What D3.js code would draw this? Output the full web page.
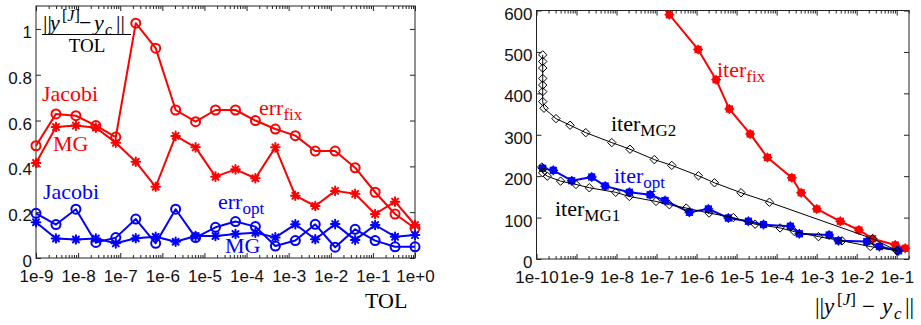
<!DOCTYPE html>
<html><head><meta charset="utf-8">
<script src="https://cdn.jsdelivr.net/npm/d3@7"></script>
<style>body{margin:0;background:#fff}svg{display:block}</style>
</head><body><svg id="c" width="921" height="325"></svg>
<script>
// ---------- Left panel data ----------
const tol = [1e-9, 2.98e-9, 8.86e-9, 2.64e-8, 7.85e-8, 2.34e-7, 6.95e-7, 2.07e-6, 6.16e-6, 1.83e-5,
             5.46e-5, 1.62e-4, 4.83e-4, 1.44e-3, 4.28e-3, 1.27e-2, 3.79e-2, 0.113, 0.336, 1.0];
const errFixJacobi = [0.49, 0.629, 0.621, 0.578, 0.528, 1.025, 0.916, 0.646, 0.595, 0.646,
                      0.646, 0.60, 0.563, 0.534, 0.467, 0.467, 0.394, 0.287, 0.192, 0.13];
const errFixMG = [0.415, 0.572, 0.578, 0.569, 0.503, 0.42, 0.311, 0.533, 0.483, 0.355,
                  0.387, 0.348, 0.483, 0.272, 0.227, 0.293, 0.28, 0.192, 0.246, 0.144];
const errOptJacobi = [0.195, 0.146, 0.213, 0.068, 0.089, 0.17, 0.064, 0.213, 0.089, 0.134,
                      0.159, 0.137, 0.052, 0.076, 0.147, 0.047, 0.125, 0.076, 0.049, 0.049];
const errOptMG = [0.156, 0.085, 0.081, 0.085, 0.064, 0.086, 0.093, 0.071, 0.096, 0.096,
                  0.105, 0.11, 0.09, 0.147, 0.082, 0.148, 0.079, 0.144, 0.093, 0.1];
const leftYTicks = [0, 0.2, 0.4, 0.6, 0.8, 1];
const leftXTicks = [1e-9, 1e-8, 1e-7, 1e-6, 1e-5, 1e-4, 1e-3, 1e-2, 1e-1, 1e0];

// ---------- Right panel data ----------
const fixRes  = [5.1e-8, 2.09e-7, 1.09e-6, 3.07e-6, 6.6e-6, 2.18e-5, 5.9e-5, 2.4e-4, 4.1e-4, 1.01e-3, 3.9e-3, 1.14e-2, 2.5e-2, 9.2e-2, 0.163];
const fixIter = [660, 590, 506, 433, 362, 302, 245, 196, 160, 121, 91, 70, 49, 34, 26];
const optRes  = [1.43e-10, 2.63e-10, 7.6e-10, 2.4e-9, 5.2e-9, 2.09e-8, 6.9e-8, 1.63e-7, 6.6e-7, 1.97e-6, 6.2e-6, 1.97e-5, 4.7e-5, 2.2e-4, 3.7e-4, 2.05e-3, 3.5e-3, 1.8e-2, 3.7e-2, 0.111];
const optIter = [219, 214, 189, 198, 176, 161, 155, 141, 113, 121, 99, 91, 83, 79, 61, 58, 44, 42, 30, 20];
const mg1Res  = [1.35e-10, 1.43e-10, 1.86e-10, 4.0e-10, 9.7e-10, 2.09e-9, 9.5e-9, 2.09e-8, 9.7e-8, 2.09e-7, 5.5e-7, 2.05e-6, 8.3e-6, 2.9e-5, 1.22e-4, 2.8e-4, 1.11e-3, 4.3e-3, 2.2e-2, 0.101];
const mg1Iter = [222, 208, 200, 188, 180, 172, 161, 151, 139, 131, 123, 111, 100, 84, 75, 66, 54, 44, 30, 20];
const mg2Res  = [1.43e-10, 1.43e-10, 1.43e-10, 1.43e-10, 1.43e-10, 1.43e-10, 1.43e-10, 1.54e-10, 3.07e-10, 6.9e-10, 1.7e-9, 7.6e-9, 2.17e-8, 8.8e-8, 2.4e-7, 1.11e-6, 2.8e-6, 1.29e-5, 6.6e-5, 2.5e-2, 0.101];
const mg2Iter = [493, 477, 461, 436, 420, 404, 380, 364, 339, 323, 305, 281, 265, 240, 226, 201, 184, 160, 137, 49, 20];
const rightYTicks = [0, 100, 200, 300, 400, 500, 600];
const rightXTicks = [1e-10, 1e-9, 1e-8, 1e-7, 1e-6, 1e-5, 1e-4, 1e-3, 1e-2, 1e-1];

// ---------- Setup ----------
const RED = '#ff0000', BLUE = '#0000ff';
const SANS = '"Liberation Sans", Arial, Helvetica, sans-serif';
const SERIF = '"Liberation Serif", "Times New Roman", serif';
const svg = d3.select('#c');

const xL = d3.scaleLog().domain([1e-9, 1]).range([36, 415]);
const yL = d3.scaleLinear().domain([0, 1.1]).range([258, 6]);
const xR = d3.scaleLog().domain([1e-10, 0.203]).range([536.5, 909]);
const yR = d3.scaleLinear().domain([0, 600]).range([259, 10.5]);

const fmtExp = d => { const e = Math.round(Math.log10(d)); return '1e' + (e >= 0 ? '+' + e : e); };

function minors(domain) {
  const out = [];
  const lo = Math.floor(Math.log10(domain[0]) + 1e-9), hi = Math.ceil(Math.log10(domain[1]) - 1e-9);
  for (let e = lo; e < hi; e++) for (let m = 2; m <= 9; m++) {
    const v = m * Math.pow(10, e);
    if (v >= domain[0] && v <= domain[1] * 1.0001) out.push(v);
  }
  return out;
}

function drawAxes(x, y, xt, yt, yfmt) {
  const [x0, x1] = x.range(), [y0, y1] = y.range();
  const g = svg.append('g');
  const style = sel => {
    sel.select('.domain').remove();
    sel.selectAll('line').attr('stroke', '#222').attr('stroke-width', 1);
    sel.selectAll('text').attr('font-family', SANS).attr('font-size', 17).attr('fill', '#111');
  };
  // bottom
  g.append('g').attr('transform', `translate(0,${y0})`)
    .call(d3.axisBottom(x).tickValues(xt).tickFormat(fmtExp).tickSize(-5).tickSizeOuter(0).tickPadding(12)).call(style);
  g.append('g').attr('transform', `translate(0,${y0})`)
    .call(d3.axisBottom(x).tickValues(minors(x.domain())).tickFormat('').tickSize(-3).tickSizeOuter(0)).call(style);
  // top
  g.append('g').attr('transform', `translate(0,${y1})`)
    .call(d3.axisTop(x).tickValues(xt).tickFormat('').tickSize(-5).tickSizeOuter(0)).call(style);
  g.append('g').attr('transform', `translate(0,${y1})`)
    .call(d3.axisTop(x).tickValues(minors(x.domain())).tickFormat('').tickSize(-3).tickSizeOuter(0)).call(style);
  // left
  g.append('g').attr('transform', `translate(${x0},0)`)
    .call(d3.axisLeft(y).tickValues(yt).tickFormat(yfmt).tickSize(-5).tickSizeOuter(0).tickPadding(4)).call(style)
    .selectAll('text').attr('dy', '0.5em');
  // right
  g.append('g').attr('transform', `translate(${x1},0)`)
    .call(d3.axisRight(y).tickValues(yt).tickFormat('').tickSize(-5).tickSizeOuter(0)).call(style);
  // frame
  g.append('rect').attr('x', x0).attr('y', y1).attr('width', x1 - x0).attr('height', y0 - y1)
    .attr('fill', 'none').attr('stroke', '#222').attr('stroke-width', 1);
}

function clip(id, x, y) {
  const [x0, x1] = x.range(), [y0, y1] = y.range();
  svg.append('clipPath').attr('id', id).append('rect')
    .attr('x', x0 - 12).attr('y', y1).attr('width', x1 - x0 + 24).attr('height', y0 - y1 + 10);
}
clip('cl', xL, yL);
clip('cr', xR, yR);

const ASTER = 'M-4.3,0H4.3M0,-4.3V4.3M-3,-3L3,3M-3,3L3,-3';
const DIAM = 'M0,-4.2L4.2,0L0,4.2L-4.2,0Z';

function series(gsel, xs, ys, x, y, color, lw, marker) {
  const pts = xs.map((d, i) => [x(d), y(ys[i])]);
  gsel.append('path').attr('d', d3.line()(pts)).attr('fill', 'none')
    .attr('stroke', color).attr('stroke-width', lw).attr('stroke-linejoin', 'round');
  const m = gsel.append('g').selectAll('g').data(pts).join('g').attr('transform', p => `translate(${p[0]},${p[1]})`);
  if (marker === 'circle') m.append('circle').attr('r', 4.5).attr('fill', 'none').attr('stroke', color).attr('stroke-width', 2);
  if (marker === 'aster') {
    m.append('circle').attr('r', 2.2).attr('fill', color);
    m.append('path').attr('d', ASTER).attr('stroke', color).attr('stroke-width', 2).attr('stroke-linecap', 'round');
  }
  if (marker === 'dot') {
    m.append('circle').attr('r', 4).attr('fill', color);
    m.append('path').attr('d', ASTER).attr('stroke', color).attr('stroke-width', 1.4).attr('stroke-linecap', 'round');
  }
  if (marker === 'diamond') m.append('path').attr('d', DIAM).attr('fill', 'none').attr('stroke', '#000').attr('stroke-width', 1);
}

// ---------- Left panel ----------
drawAxes(xL, yL, leftXTicks, leftYTicks, d => (d === 0 ? '0' : d === 1 ? '1' : d3.format('.1f')(d)));
const gl = svg.append('g').attr('clip-path', 'url(#cl)');
series(gl, tol, errFixJacobi, xL, yL, RED, 2, 'circle');
series(gl, tol, errFixMG, xL, yL, RED, 2, 'aster');
series(gl, tol, errOptJacobi, xL, yL, BLUE, 2, 'circle');
series(gl, tol, errOptMG, xL, yL, BLUE, 2, 'aster');

// ---------- Right panel ----------
drawAxes(xR, yR, rightXTicks, rightYTicks, d3.format('d'));
const gr = svg.append('g').attr('clip-path', 'url(#cr)');
series(gr, fixRes, fixIter, xR, yR, RED, 2, 'dot');
series(gr, optRes, optIter, xR, yR, BLUE, 2, 'dot');
series(gr, mg2Res, mg2Iter, xR, yR, '#000', 1, 'diamond');
series(gr, mg1Res, mg1Iter, xR, yR, '#000', 1, 'diamond');

// ---------- Text labels ----------
function label(x, y, main, sub, color, size, subSize, subDy) {
  const t = svg.append('text').attr('x', x).attr('y', y).attr('font-family', SERIF)
    .attr('font-size', size).attr('fill', color);
  t.append('tspan').text(main);
  if (sub) t.append('tspan').attr('font-size', subSize).attr('dy', subDy).text(sub);
  return t;
}
label(42, 101, 'Jacobi', null, RED, 22);
label(53, 151, 'MG', null, RED, 22);
label(259, 115, 'err', 'fix', RED, 22, 17, 5);
label(43, 199, 'Jacobi', null, BLUE, 22);
label(218, 209, 'err', 'opt', BLUE, 22, 17, 5);
label(225, 253, 'MG', null, BLUE, 22);
label(365, 308, 'TOL', null, '#000', 22);

label(717, 77, 'iter', 'fix', RED, 22, 17, 5);
label(611, 131, 'iter', 'MG2', '#000', 22, 17, 5);
label(614, 183, 'iter', 'opt', BLUE, 22, 17, 5);
label(555, 216, 'iter', 'MG1', '#000', 22, 17, 5);

// norm expression ||y^[J] - y_c|| with explicit piece offsets (relative to x0)
function normExpr(x0, y, size, offs) {
  const t = svg.append('text').attr('y', y).attr('font-family', SERIF)
    .attr('font-size', size).attr('fill', '#000');
  const s = Math.round(size * 0.72);
  const up = size * 0.4, dn = size * 0.22;
  t.append('tspan').attr('x', x0 + offs[0]).attr('y', y).text('||');
  t.append('tspan').attr('x', x0 + offs[1]).attr('y', y).attr('font-style', 'italic').text('y');
  t.append('tspan').attr('x', x0 + offs[2]).attr('y', y - up).attr('font-size', s).text('[');
  t.append('tspan').attr('y', y - up).attr('font-size', s).attr('font-style', 'italic').text('J');
  t.append('tspan').attr('y', y - up).attr('font-size', s).text(']');
  t.append('tspan').attr('x', x0 + offs[3]).attr('y', y).text('\u2212');
  t.append('tspan').attr('x', x0 + offs[4]).attr('y', y).attr('font-style', 'italic').text('y');
  t.append('tspan').attr('x', x0 + offs[5]).attr('y', y + dn).attr('font-size', s).attr('font-style', 'italic').text('c');
  t.append('tspan').attr('x', x0 + offs[6]).attr('y', y).text('||');
  return t;
}
// fraction in left panel
normExpr(43, 30, 22, [0, 7, 19, 36, 51, 62, 73]);
svg.append('line').attr('x1', 42).attr('x2', 131).attr('y1', 34.5).attr('y2', 34.5)
  .attr('stroke', '#000').attr('stroke-width', 1);
svg.append('text').attr('x', 87).attr('y', 52).attr('text-anchor', 'middle')
  .attr('font-family', SERIF).attr('font-size', 19).text('TOL');
// right x-axis label
normExpr(815, 314, 23, [0, 9, 22, 47, 67, 79, 90]);
</script>
</body></html>
